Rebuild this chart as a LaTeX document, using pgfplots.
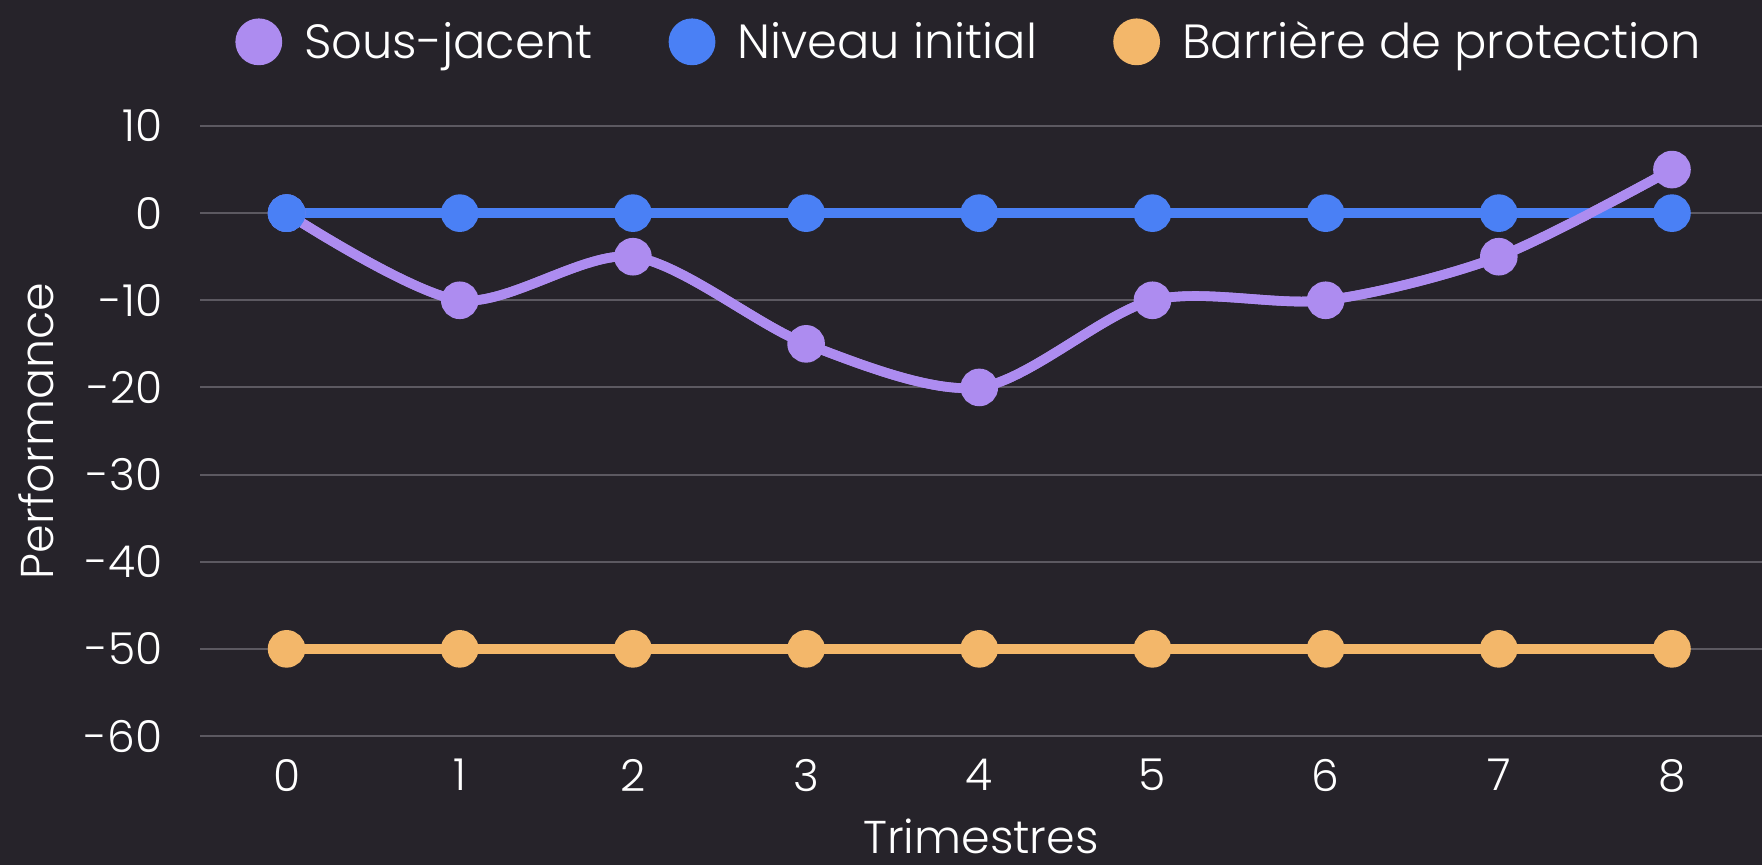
\documentclass[border=0pt]{standalone}
\usepackage{pgfplots}
\pgfplotsset{compat=1.18}
\usepackage{fontspec}
\setmainfont{Poppins}[UprightFont=* Light]
\definecolor{bg}{RGB}{38,35,42}
\definecolor{gridc}{RGB}{92,89,97}
\definecolor{purp}{RGB}{173,140,240}
\definecolor{blu}{RGB}{74,128,245}
\definecolor{ora}{RGB}{243,183,106}
\begin{document}
\begin{tikzpicture}
\fill[bg] (0,0) rectangle (881pt,432.5pt);
\useasboundingbox (0,0) rectangle (881pt,432.5pt);
\begin{axis}[
  at={(100pt,64.5pt)}, anchor=south west,
  scale only axis, width=781pt, height=305pt,
  xmin=-0.5, xmax=8.52, ymin=-60, ymax=10,
  xtick={0,1,2,3,4,5,6,7,8}, ytick={-60,-50,-40,-30,-20,-10,0,10},
  xticklabels={0,1,2,3,4,5,6,7,8},
  yticklabels={-60,-50,-40,-30,-20,-10,0,10},
  axis line style={draw=none},
  major tick length=0pt,
  ymajorgrids, grid style={gridc, line width=1pt},
  tick label style={text=white, font=\fontsize{22}{26}\selectfont},
  yticklabel style={inner sep=0pt, xshift=-18.5pt},
  xticklabel style={inner sep=0pt, yshift=-11.5pt},
  xlabel={Trimestres}, ylabel={Performance},
  label style={text=white, font=\fontsize{23}{27}\selectfont},
  xlabel style={at={(axis description cs:0.5,-0.165)}, anchor=center},
  ylabel style={at={(axis description cs:-0.105,0.5)}, anchor=center},
  legend style={at={(axis description cs:0.493,1.138)}, anchor=center,
    draw=none, fill=none, text=white, font=\fontsize{24}{28}\selectfont,
    legend columns=-1,
    /tikz/every even column/.append style={column sep=36pt},
    /tikz/every odd column/.append style={column sep=9pt}},
  legend image code/.code={\fill[draw=none] (0pt,0pt) circle (11.7pt);},
  every axis plot/.append style={line width=4.8pt, mark=*, mark size=7pt, mark options={draw=none}},
]
\addplot[color=purp, smooth] coordinates {(0,0) (1,-10) (2,-5) (3,-15) (4,-20) (5,-10) (6,-10) (7,-5) (8,5)};
\addlegendentry{Sous-jacent}
\addplot[color=blu] coordinates {(0,0) (1,0) (2,0) (3,0) (4,0) (5,0) (6,0) (7,0) (8,0)};
\addlegendentry{Niveau initial}
\addplot[color=ora] coordinates {(0,-50) (1,-50) (2,-50) (3,-50) (4,-50) (5,-50) (6,-50) (7,-50) (8,-50)};
\addlegendentry{Barrière de protection}
\addplot[color=purp, smooth, no markers, forget plot] coordinates {(0,0) (1,-10) (2,-5) (3,-15) (4,-20) (5,-10) (6,-10) (7,-5) (8,5)};
\addplot[color=blu, only marks, forget plot] coordinates {(0,0)};
\end{axis}
\end{tikzpicture}
\end{document}
